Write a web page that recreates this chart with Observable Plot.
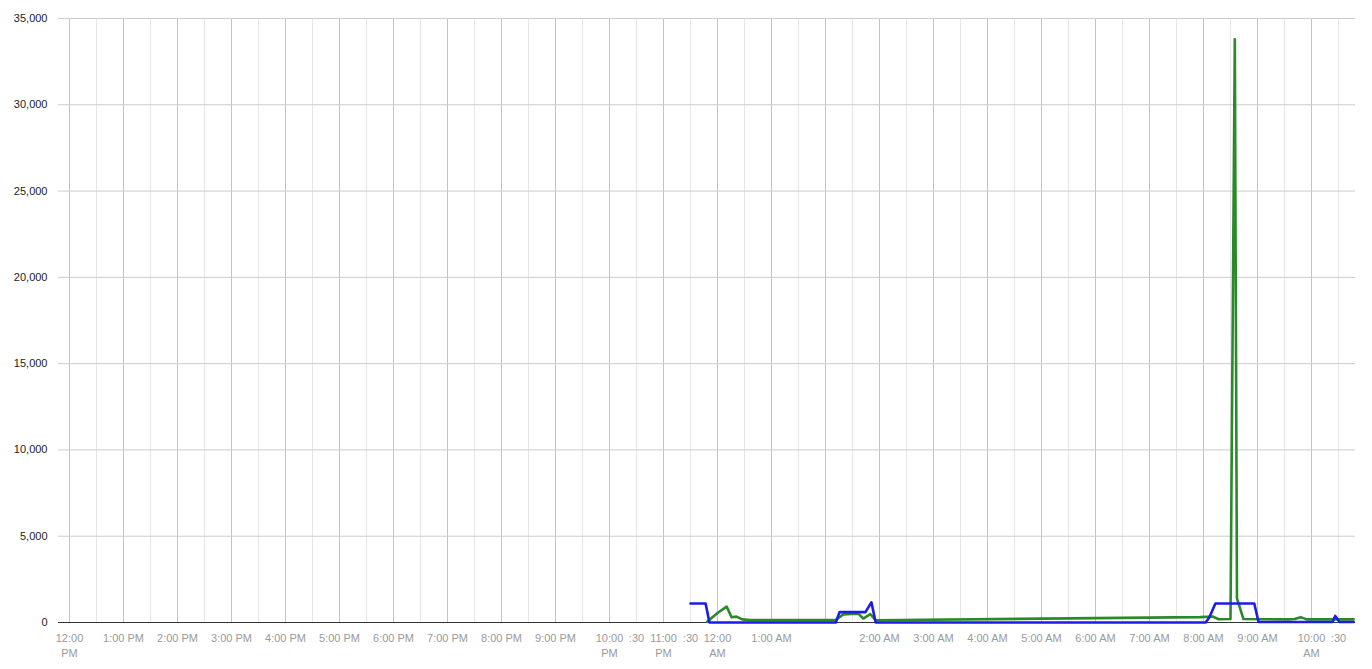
<!DOCTYPE html>
<html>
<head>
<meta charset="utf-8">
<script src="https://cdn.jsdelivr.net/npm/d3@7"></script>
<script src="https://cdn.jsdelivr.net/npm/@observablehq/plot@0.6"></script>
<style>
  html, body { margin: 0; padding: 0; background: #fff; }
  #chart svg { display: block; }
</style>
</head>
<body>
<div id="chart"></div>
<script>
// x values are hours elapsed since 12:00 PM (the night includes a repeated 1:00 AM hour)
const majorTickHours = d3.range(0, 24);
const minorTickHours = d3.range(0.5, 24, 1);
const labelHours = [0, 1, 2, 3, 4, 5, 6, 7, 8, 9, 10, 10.5, 11, 11.5, 12, 13, 15, 16, 17, 18, 19, 20, 21, 22, 23, 23.5];
const labelTexts = ["12:00\nPM", "1:00 PM", "2:00 PM", "3:00 PM", "4:00 PM", "5:00 PM", "6:00 PM", "7:00 PM", "8:00 PM", "9:00 PM",
  "10:00\nPM", ":30", "11:00\nPM", ":30", "12:00\nAM", "1:00 AM", "2:00 AM", "3:00 AM", "4:00 AM", "5:00 AM", "6:00 AM",
  "7:00 AM", "8:00 AM", "9:00 AM", "10:00\nAM", ":30"];
const yTicks = [0, 5000, 10000, 15000, 20000, 25000, 30000, 35000];

const blueHours = [11.50, 11.78, 11.85, 14.19, 14.26, 14.74, 14.85, 14.93, 21.04, 21.11, 21.22, 21.94, 22.02, 23.39, 23.44, 23.52, 23.78];
const blueValues = [1100, 1100, 0, 0, 600, 600, 1170, 0, 0, 300, 1100, 1100, 30, 30, 380, 30, 30];

const greenHours = [11.81, 12.00, 12.17, 12.26, 12.35, 12.46, 12.61, 14.19, 14.33, 14.48, 14.61, 14.70, 14.83, 14.93,
  20.94, 21.17, 21.28, 21.50, 21.58, 21.62, 21.74, 22.57, 22.69, 22.80, 22.91, 23.78];
const greenValues = [50, 550, 920, 300, 340, 180, 140, 140, 470, 500, 500, 230, 480, 130,
  310, 350, 190, 200, 33800, 1400, 200, 180, 200, 310, 180, 180];

const blue = blueHours.map((h, i) => ({h, v: blueValues[i]}));
const green = greenHours.map((h, i) => ({h, v: greenValues[i]}));
const labelMap = new Map(labelHours.map((h, i) => [h, labelTexts[i]]));

const chart = Plot.plot({
  width: 1372,
  height: 669,
  marginLeft: 58,
  marginRight: 17,
  marginTop: 18,
  marginBottom: 47,
  style: {fontFamily: "Arial, 'Liberation Sans', sans-serif", background: "#fff"},
  x: {type: "linear", domain: [-0.204, 23.815]},
  y: {domain: [0, 35000]},
  marks: [
    Plot.gridX(minorTickHours, {stroke: "#e6e6e6", strokeOpacity: 1, strokeWidth: 1}),
    Plot.gridX(majorTickHours, {stroke: "#c4c4c4", strokeOpacity: 1, strokeWidth: 1}),
    Plot.gridY(yTicks.filter(d => d > 0), {stroke: "#cccccc", strokeOpacity: 1, strokeWidth: 1}),
    Plot.axisY(yTicks, {tickSize: 0, tickPadding: 11, tickFormat: d3.format(","), fontSize: 11, fill: "#222", label: null}),
    Plot.axisX(labelHours, {tickSize: 0, tickPadding: 9, tickFormat: d => labelMap.get(d), fontSize: 11, fill: "#9a9a9a", lineHeight: 1.36, label: null}),
    Plot.ruleY([0], {stroke: "#333", strokeWidth: 1.2}),
    Plot.line(green, {x: "h", y: "v", stroke: "#2a8a2a", strokeWidth: 2.6}),
    Plot.line(blue, {x: "h", y: "v", stroke: "#1c1ce6", strokeWidth: 2.6})
  ]
});
document.getElementById("chart").appendChild(chart);
</script>
</body>
</html>
